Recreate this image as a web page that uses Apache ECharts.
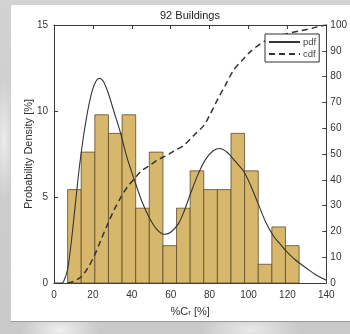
<!DOCTYPE html>
<html>
<head>
<meta charset="utf-8">
<script src="https://cdn.jsdelivr.net/npm/echarts@6/dist/echarts.min.js"></script>
<style>
html,body{margin:0;padding:0;}
body{width:350px;height:334px;overflow:hidden;position:relative;
 background:
  radial-gradient(ellipse 40px 20px at 60px 330px, rgba(255,255,255,0.7), rgba(255,255,255,0)),
  radial-gradient(ellipse 50px 18px at 250px 330px, rgba(255,255,255,0.6), rgba(255,255,255,0)),
  radial-gradient(ellipse 10px 60px at 4px 140px, rgba(255,255,255,0.6), rgba(255,255,255,0)),
  linear-gradient(180deg,#d2d2d2,#c9c9c9);}
#panel{position:absolute;left:10px;top:5px;width:340px;height:316px;background:#fff;border-bottom:1px solid #9a9a9a;border-left:1px solid #d0d0d0;}
#chart{position:absolute;left:0;top:0;width:350px;height:334px;}
</style>
</head>
<body>
<div id="panel"></div>
<div id="chart"></div>
<script>
// ---- data ----
const binEdges = [7,14,21,28,35,42,49,56,63,70,77,84,91,98,105,112,119,126];
const barValues = [5.43,7.61,9.78,8.70,9.78,4.35,7.61,2.17,4.35,6.52,5.43,5.43,8.70,6.52,1.09,3.26,2.17];
const pdfX = [0,4,5,7,9,11,13,15,17,19,21,23.3,25.5,28,31,34,37.5,41.3,45,49,53,56.6,60,64,67,70.2,74,78,82,85.2,89,93,97.5,101,105,109,113,116,119,124,130,135,140];
const pdfY = [0,0,0.1,0.8,2.5,4.6,6.7,8.4,9.8,10.9,11.6,11.9,11.7,11.0,9.9,8.8,7.3,6.0,4.8,3.8,3.1,2.83,2.95,3.45,4.2,5.2,6.3,7.2,7.7,7.82,7.6,7.1,6.5,5.7,4.6,3.5,2.7,2.3,1.9,1.35,0.84,0.45,0.16];
const cdfX = [7,10,14,17.5,21,24,27.7,31,34.5,38,41.4,45,50,54,58.4,62,66.8,72,77,80,84,88,92.4,97,101,107.7,114,120,127,133,137,140];
const cdfY = [0,0.6,2.4,6,11,16.5,23,28.5,33.4,37.5,40.5,43.5,46,48,49.6,51.3,53.4,57.3,61,65,71,76.5,82.6,86.5,89.7,93.5,95.5,96.7,97.8,98.8,99.6,100];
const xTicks = {min:0, max:140, interval:20};
const yLeftTicks = {min:0, max:15, interval:5};
const yRightTicks = {min:0, max:100, interval:10};
const titleText = '92 Buildings';
const xName = '%C{sub|r} [%]';
const yName = 'Probability Density [%]';

// ---- chart ----
const FONT = '"Liberation Sans", Arial, sans-serif';
const AX = '#3a3a3a';
const chart = echarts.init(document.getElementById('chart'), null, {renderer:'canvas'});
const axisCommon = {
  axisLine:{show:true, onZero:false, lineStyle:{color:AX, width:1}},
  axisTick:{show:true, inside:true, length:4, lineStyle:{color:AX}},
  splitLine:{show:false},
  axisLabel:{color:'#333', fontSize:10, fontFamily:FONT}
};
chart.setOption({
  animation:false,
  backgroundColor:'transparent',
  title:{text:titleText, left:160, top:10, padding:0,
    textStyle:{fontSize:11, fontWeight:'normal', color:'#222', fontFamily:FONT}},
  legend:{orient:'vertical', left:265, top:34, padding:[3,3,3,3], itemGap:2,
    itemWidth:31, itemHeight:9, backgroundColor:'#fff', borderColor:'#333', borderWidth:1,
    borderRadius:0, textStyle:{fontSize:9.5, color:'#444', fontFamily:FONT, padding:[0,0,0,-2]},
    itemStyle:{opacity:0},
    data:['pdf','cdf']},
  grid:{left:54, top:25, width:273, height:258},
  xAxis:[
    Object.assign({}, axisCommon, {type:'value', position:'bottom', min:xTicks.min, max:xTicks.max, interval:xTicks.interval,
      axisLabel:Object.assign({}, axisCommon.axisLabel, {margin:7}),
      name:xName, nameLocation:'middle', nameGap:23, nameMoveOverlap:false,
      nameTextStyle:{fontSize:11, color:'#333', fontFamily:FONT,
        rich:{sub:{fontSize:8, lineHeight:4, verticalAlign:'bottom', color:'#333', fontFamily:FONT}}}}),
    Object.assign({}, axisCommon, {type:'value', position:'top', min:xTicks.min, max:xTicks.max, interval:xTicks.interval,
      axisLabel:{show:false}})
  ],
  yAxis:[
    Object.assign({}, axisCommon, {type:'value', position:'left', min:yLeftTicks.min, max:yLeftTicks.max, interval:yLeftTicks.interval,
      axisLabel:Object.assign({}, axisCommon.axisLabel, {margin:6}),
      name:yName, nameLocation:'middle', nameGap:20, nameRotate:90, nameMoveOverlap:false,
      nameTextStyle:{fontSize:11, color:'#333', fontFamily:FONT}}),
    Object.assign({}, axisCommon, {type:'value', position:'right', min:yRightTicks.min, max:yRightTicks.max, interval:yRightTicks.interval,
      axisLabel:Object.assign({}, axisCommon.axisLabel, {margin:4})})
  ],
  series:[
    {type:'custom', name:'hist', xAxisIndex:0, yAxisIndex:0, z:1,
      data:barValues.map((v,i)=>[binEdges[i], binEdges[i+1], v]),
      encode:{x:[0,1], y:2},
      renderItem:function(params, api){
        const p0 = api.coord([api.value(0), 0]);
        const p1 = api.coord([api.value(1), api.value(2)]);
        return {type:'rect', shape:{x:p0[0], y:p1[1], width:p1[0]-p0[0], height:p0[1]-p1[1]},
          style:{fill:'#d6b76b', stroke:'#5e4d2c', lineWidth:0.8}};
      }},
    {type:'line', name:'pdf', xAxisIndex:0, yAxisIndex:0, z:3, symbol:'none', smooth:0.3,
      data:pdfX.map((x,i)=>[x,pdfY[i]]),
      lineStyle:{color:'#333', width:1.1}, itemStyle:{color:'#333'}},
    {type:'line', name:'cdf', xAxisIndex:0, yAxisIndex:1, z:3, symbol:'none', smooth:0.3,
      data:cdfX.map((x,i)=>[x,cdfY[i]]),
      lineStyle:{color:'#333', width:1.5, type:[6,4]}, itemStyle:{color:'#333'}}
  ]
});
</script>
</body>
</html>
